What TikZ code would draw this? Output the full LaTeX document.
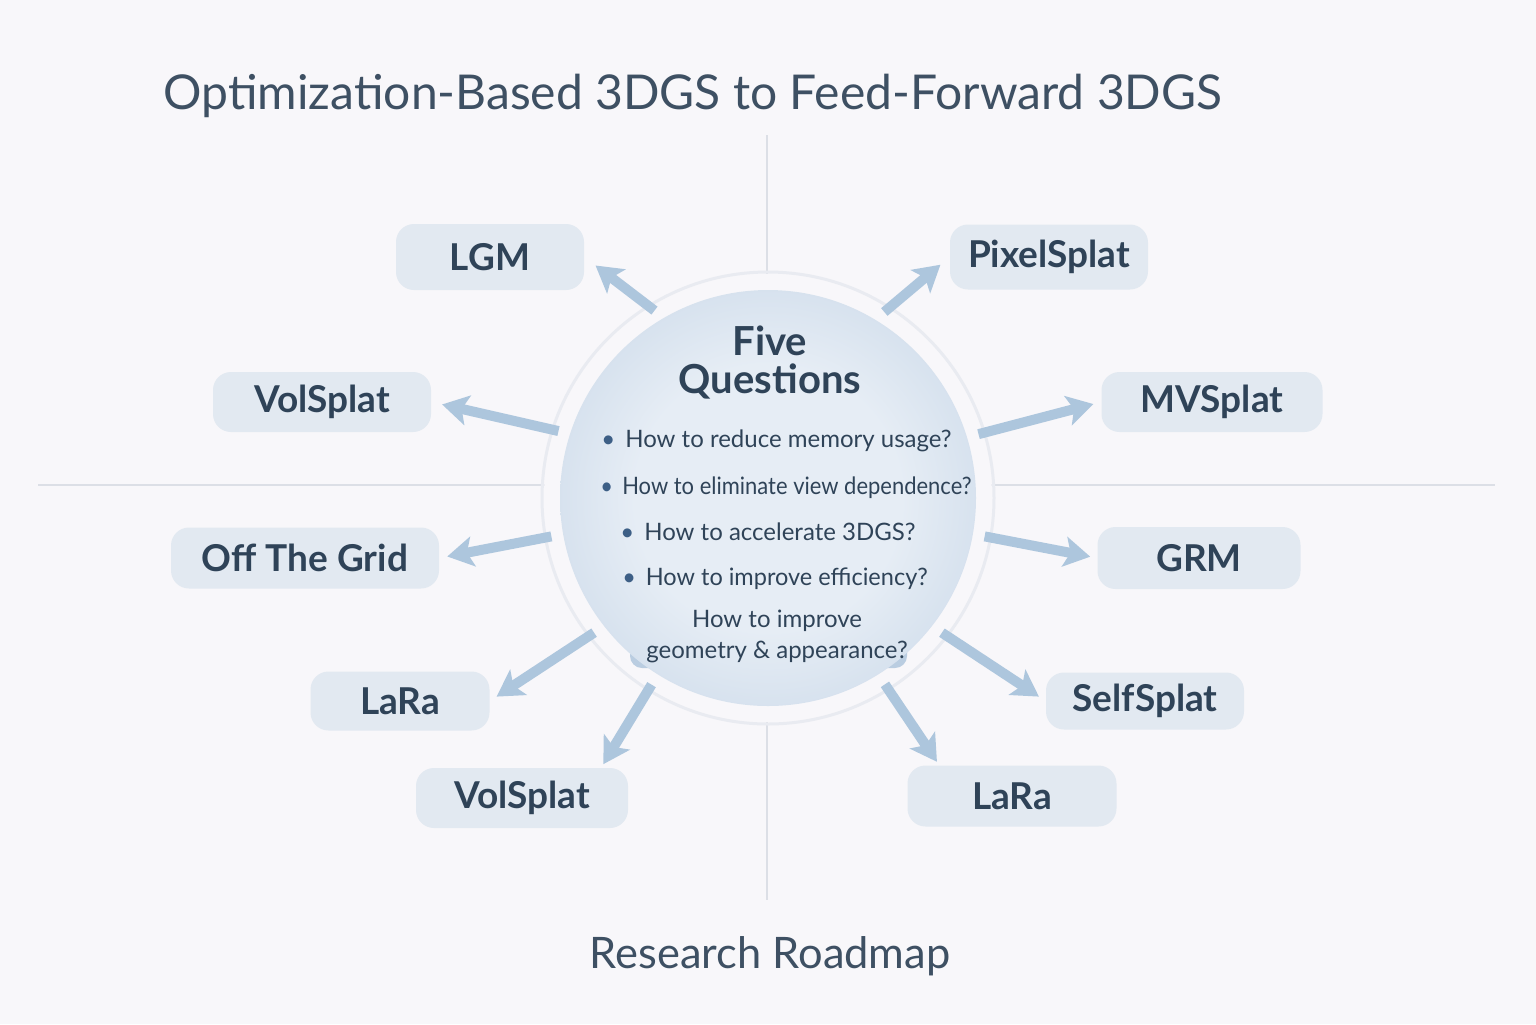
\documentclass[tikz,border=0pt]{standalone}
\usepackage{fontspec}
\setmainfont{Lato}
\usetikzlibrary{arrows.meta}
\definecolor{bg}{HTML}{F8F7FA}
\definecolor{ink}{HTML}{2F4358}
\definecolor{titleink}{HTML}{3E5063}
\definecolor{boxfill}{HTML}{E2E9F1}
\definecolor{arrowc}{HTML}{ADC6DD}
\definecolor{gridc}{HTML}{DCDFE6}
\definecolor{ringc}{HTML}{E9EBF1}
\definecolor{cin}{HTML}{E6EDF5}
\definecolor{cout}{HTML}{AEC4DC}
\definecolor{padc}{HTML}{BACDE1}
\definecolor{bulletc}{HTML}{3D5F86}
\pgfdeclareradialshading{qshade}{\pgfpoint{0bp}{0bp}}{color(0bp)=(cin); color(16bp)=(cin); color(50bp)=(cout)}
\tikzset{
  labelbox/.style={rounded corners=9pt, fill=boxfill, inner sep=0pt, text=ink,
    font=\fontsize{18.5}{22}\selectfont\bfseries},
  arr/.style={draw=arrowc, line width=5pt, shorten <=6pt,
    -{Stealth[length=13pt,width=15pt,inset=3pt]}},
  gridline/.style={draw=gridc, line width=1.4pt},
  qtext/.style={text=ink, font=\fontsize{12}{14}\selectfont, inner sep=0pt},
  headtext/.style={text=ink, font=\fontsize{20}{22}\selectfont\bfseries},
}
\begin{document}
\begin{tikzpicture}[x=0.5pt,y=-0.5pt]
\fill[bg] (0,0) rectangle (1536,1024);
\useasboundingbox (0,0) rectangle (1536,1024);

% title
\node[text=titleink, font=\fontsize{24}{28}\selectfont] (title) at (693,96) {Optimization-Based 3DGS to Feed-Forward 3DGS};
\node[text=titleink, font=\fontsize{21.7}{26}\selectfont] (foot) at (770,956) {Research Roadmap};

% grid lines
\draw[gridline] (767,135) -- (767,290);
\draw[gridline] (767,706) -- (767,900);
\draw[gridline] (38,485) -- (560,485);
\draw[gridline] (976,485) -- (1495,485);

% outer ring and circle
\draw[ringc, line width=1.5pt] (768,498) circle (113pt);
\fill[bg] (768,498) circle (112pt);
\fill[padc, rounded corners=6pt] (630,636) rectangle (907,668);
\node[circle, minimum size=208pt, inner sep=0pt, outer sep=0pt, shading=qshade] (q) at (768,498) {};

\node[headtext] (five) at (770,341) {Five};
\node[headtext] (quest) at (770,381) {Questions};

\node[qtext, anchor=west] (q1) at (601,441) {\textcolor{bulletc}{•}\hspace{5pt}How to reduce memory usage?};
\node[qtext, anchor=west] (q2) at (600,488) {\scalebox{0.915}[1]{\textcolor{bulletc}{•}\hspace{5pt}How to eliminate view dependence?}};
\node[qtext, anchor=west] (q3) at (620,532) {\textcolor{bulletc}{•}\hspace{5pt}How to accelerate 3DGS?};
\node[qtext, anchor=west] (q4) at (622,579) {\scalebox{0.98}[1]{\textcolor{bulletc}{•}\hspace{5pt}How to improve efficiency?}};
\node[qtext] (q5a) at (777,621) {How to improve};
\node[qtext] (q5b) at (777,652) {geometry \& appearance?};

% boxes
\node[labelbox, minimum width=94pt, minimum height=33pt] (lgm) at (490,257) {LGM};
\node[labelbox, minimum width=99pt, minimum height=32.5pt] (pix) at (1049,257) {PixelSplat};
\node[labelbox, minimum width=109pt, minimum height=30pt] (vol1) at (322,402) {VolSplat};
\node[labelbox, minimum width=110.5pt, minimum height=30pt] (mvs) at (1212,402) {MVSplat};
\node[labelbox, minimum width=134pt, minimum height=30.5pt] (otg) at (305,558) {Off The Grid};
\node[labelbox, minimum width=101.5pt, minimum height=31pt] (grm) at (1199,558) {GRM};
\node[labelbox, minimum width=89.5pt, minimum height=29.5pt] (lara1) at (400,701) {LaRa};
\node[labelbox, minimum width=99pt, minimum height=28.5pt] (self) at (1145,701) {SelfSplat};
\node[labelbox, minimum width=106pt, minimum height=30pt] (vol2) at (522,798) {VolSplat};
\node[labelbox, minimum width=104.5pt, minimum height=30.5pt] (lara2) at (1012,796) {LaRa};

% arrows
\draw[arr, shorten >=7pt] (q.120.6) -- (lgm.east);
\draw[arr, shorten >=6pt] (q.59.8) -- (pix.west);
\draw[arr, shorten >=5.5pt] (q.162.2) -- (vol1.east);
\draw[arr, shorten >=4pt] (q.17.4) -- (mvs.west);
\draw[arr, shorten >=4pt] (q.190.5) -- (otg.east);
\draw[arr, shorten >=3.5pt] (q.-10.3) -- (grm.west);
\draw[arr, shorten >=4pt] (q.218.2) -- (lara1.east);
\draw[arr, shorten >=4pt] (q.-38.3) -- (self.west);
\draw[arr, shorten >=2pt] (q.238.6) -- (vol2.21.8);
\draw[arr, shorten >=2pt] (q.-58.9) -- (lara2.157.9);
\end{tikzpicture}
\end{document}
